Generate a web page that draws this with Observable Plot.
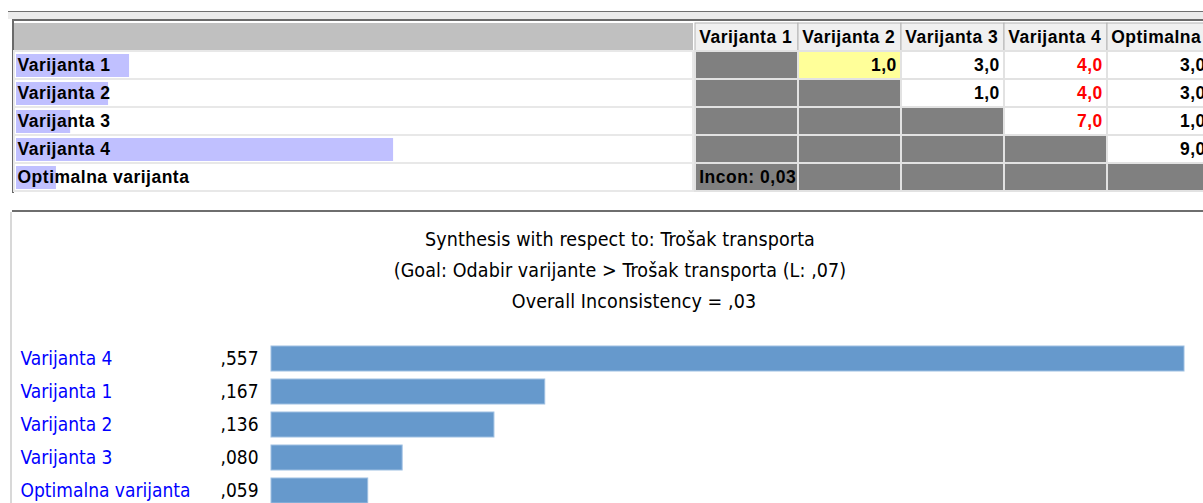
<!DOCTYPE html>
<html>
<head>
<meta charset="utf-8">
<script src="https://cdn.jsdelivr.net/npm/d3@7"></script>
<script src="https://cdn.jsdelivr.net/npm/@observablehq/plot@0.6"></script>
<style>
  html, body { margin: 0; padding: 0; background: #ffffff; }
  #wrap { position: relative; width: 1203px; height: 503px; overflow: hidden; background: #ffffff; }
  .abs { position: absolute; }
  svg { max-width: none !important; }
  #titles { position: absolute; left: 0; top: 224px; width: 1240px; text-align: center;
    font-family: "DejaVu Sans Condensed", "Liberation Sans", sans-serif; font-size: 19.5px;
    letter-spacing: 0.1px; line-height: 31px; color: #000; }
</style>
</head>
<body>
<div id="wrap">
  <div class="abs" style="left:8px;top:11px;width:1195px;height:1px;background:#707070"></div>
  <div class="abs" style="left:8px;top:12px;width:1195px;height:7px;background:#ececec"></div>
  <div class="abs" style="left:12px;top:19px;width:1191px;height:2px;background:#6a6a6a"></div>
  <div class="abs" style="left:12px;top:19px;width:2px;height:174px;background:#6a6a6a"></div>
  <div id="left" class="abs" style="left:14px;top:21px;width:679px;height:172px"></div>
  <div id="matrix" class="abs" style="left:693px;top:21px;width:518px;height:172px"></div>
  <div class="abs" style="left:12px;top:210px;width:1191px;height:2px;background:#6e6e6e"></div>
  <div class="abs" style="left:10px;top:212px;width:2px;height:291px;background:#d8d8d8"></div>
  <div id="titles"></div>
  <div id="bars" class="abs" style="left:0;top:342px;width:1203px;height:165px"></div>
</div>
<script>
// ---- data ----
const rowNames = ["Varijanta 1", "Varijanta 2", "Varijanta 3", "Varijanta 4", "Optimalna varijanta"];
const priorities = [0.167, 0.136, 0.080, 0.557, 0.059];
// [row, column, value, inverted (column preferred, shown red)]
const comparisons = [
  ["Varijanta 1", "Varijanta 2", 1.0, false],
  ["Varijanta 1", "Varijanta 3", 3.0, false],
  ["Varijanta 1", "Varijanta 4", 4.0, true],
  ["Varijanta 1", "Optimalna varijanta", 3.0, false],
  ["Varijanta 2", "Varijanta 3", 1.0, false],
  ["Varijanta 2", "Varijanta 4", 4.0, true],
  ["Varijanta 2", "Optimalna varijanta", 3.0, false],
  ["Varijanta 3", "Varijanta 4", 7.0, true],
  ["Varijanta 3", "Optimalna varijanta", 1.0, false],
  ["Varijanta 4", "Optimalna varijanta", 9.0, false]
];
const selectedPair = ["Varijanta 1", "Varijanta 2"];
const inconsistency = 0.03;
const titleLines = [
  "Synthesis with respect to: Trošak transporta",
  "(Goal: Odabir varijante > Trošak transporta (L: ,07)",
  "Overall Inconsistency = ,03"
];

// ---- helpers ----
const HEADER = "\u0000header";
const fmt1 = v => v.toFixed(1).replace(".", ",");
const fmt2 = v => v.toFixed(2).replace(".", ",");
const fmt3 = v => d3.format(".3f")(v).replace(/^0/, "").replace(".", ",");
const tableFont = {fontFamily: "'Liberation Sans', Arial, sans-serif", fontSize: "17.5px", letterSpacing: "0.5px", background: "transparent", overflow: "visible", maxWidth: "none"};

const rows = rowNames.map((name, i) => ({name, priority: priorities[i]}));
const pairs = comparisons.map(([row, col, value, inverted]) => ({row, col, value, inverted}));
const pairKey = (r, c) => r + "|" + c;
const pairSet = new Set(pairs.map(d => pairKey(d.row, d.col)));
const grid = rowNames.flatMap(r => rowNames.map(c => ({row: r, col: c})));

// ---- left: row labels with priority bars ----
const leftPlot = Plot.plot({
  width: 679, height: 172,
  marginTop: 0, marginBottom: 0, marginRight: 0, marginLeft: 2,
  x: {domain: [0, 1], axis: null},
  y: {domain: [HEADER, ...rowNames], axis: null, padding: 0},
  color: {type: "identity"},
  style: tableFont,
  marks: [
    Plot.cell([HEADER], {y: d => d, fill: "#c0c0c0", insetLeft: -2}),
    Plot.cell(rowNames, {y: d => d, fill: "#ffffff", stroke: "#e8e8e8", strokeWidth: 2, insetLeft: -2}),
    Plot.barX(rows, {x: "priority", y: "name", fill: "#c0c0ff", insetTop: 3, insetBottom: 2}),
    Plot.text(rows, {y: "name", text: "name", frameAnchor: "left", dx: 1, fontWeight: "bold", fill: "#000000"})
  ]
});
document.getElementById("left").append(leftPlot);

// ---- matrix ----
const MW = 518;
const bw = MW / rowNames.length;
const cellFill = d => {
  if (d.row === selectedPair[0] && d.col === selectedPair[1]) return "#ffff99";
  return pairSet.has(pairKey(d.row, d.col)) ? "#ffffff" : "#808080";
};
const matrixPlot = Plot.plot({
  width: MW, height: 172, margin: 0,
  x: {domain: rowNames, axis: null, padding: 0},
  y: {domain: [HEADER, ...rowNames], axis: null, padding: 0},
  color: {type: "identity"},
  style: tableFont,
  marks: [
    Plot.cell(rowNames, {x: d => d, y: () => HEADER, fill: "#f0f0f0", stroke: "#b4b4b4", strokeWidth: 1}),
    Plot.cell(grid, {x: "col", y: "row", fill: cellFill, stroke: "#e2e2e2", strokeWidth: 2}),
    Plot.text(rowNames, {x: d => d, y: () => HEADER, text: d => d, textAnchor: "start", dx: -bw / 2 + 4, fontWeight: "bold", fill: "#000000"}),
    Plot.text(pairs, {x: "col", y: "row", text: d => fmt1(d.value), textAnchor: "end", dx: bw / 2 - 5, fontWeight: "bold", fill: d => d.inverted ? "#ff0000" : "#000000"}),
    Plot.text([inconsistency], {x: () => rowNames[0], y: () => rowNames[rowNames.length - 1], text: d => "Incon: " + fmt2(d), textAnchor: "start", dx: -bw / 2 + 4, fontWeight: "bold", fill: "#000000"})
  ]
});
document.getElementById("matrix").append(matrixPlot);

// ---- titles ----
const titles = document.getElementById("titles");
titleLines.forEach((t, i) => {
  const div = document.createElement("div");
  div.textContent = t;
  if (i === 2) div.style.paddingLeft = "28px";
  titles.append(div);
});

// ---- synthesis bars ----
const synth = d3.sort(rows.map(d => ({name: d.name, value: d.priority})), d => -d.value);
const barPlot = Plot.plot({
  width: 1203, height: 165,
  marginLeft: 271, marginRight: 19, marginTop: 0, marginBottom: 0,
  x: {domain: [0, d3.max(priorities)], axis: null},
  y: {domain: synth.map(d => d.name), axis: null, padding: 0},
  color: {type: "identity"},
  style: {fontFamily: "'DejaVu Sans Condensed', 'Liberation Sans', sans-serif", fontSize: "19px", letterSpacing: "0px", background: "transparent", overflow: "visible", maxWidth: "none"},
  marks: [
    Plot.barX(synth, {x: "value", y: "name", fill: "#6699cc", stroke: "#9dbfe2", strokeWidth: 1, insetTop: 4, insetBottom: 4}),
    Plot.text(synth, {y: "name", text: "name", frameAnchor: "left", textAnchor: "start", dx: -251, fill: "#0000ff"}),
    Plot.text(synth, {y: "name", text: d => fmt3(d.value), frameAnchor: "left", textAnchor: "end", dx: -13, fill: "#000000"})
  ]
});
document.getElementById("bars").append(barPlot);
</script>
</body>
</html>
